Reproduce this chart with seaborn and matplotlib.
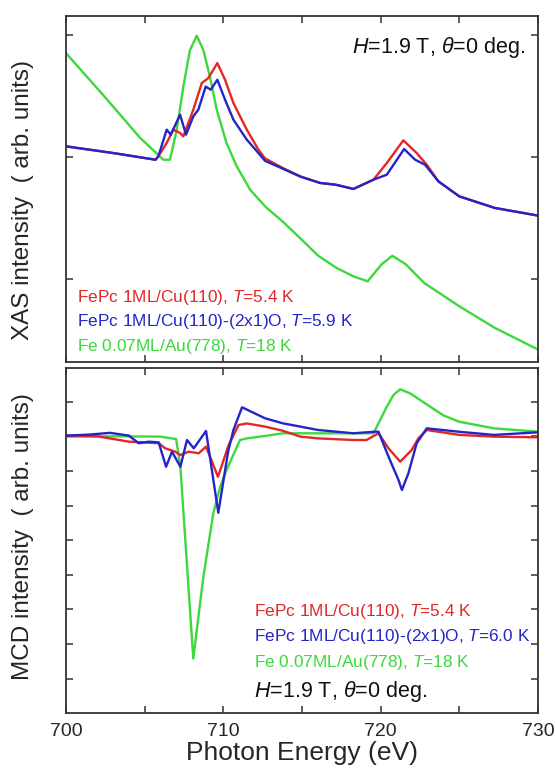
# =========================
# XAS / MCD spectra - FePc on Cu(110)
# =========================

import numpy as np
import pandas as pd
import matplotlib
matplotlib.use('Agg')
import matplotlib.pyplot as plt
import seaborn as sns

# ----- dados -----

x_ticks = [700, 705, 710, 715, 720, 725, 730]
x_tick_labels = ['700', '', '710', '', '720', '', '730']

# XAS - FePc 1ML/Cu(110), T=5.4 K
xas_red_e = [700.0, 703.0, 705.69, 705.87, 706.40, 706.82, 707.25, 707.46, 708.09, 708.63,
             709.05, 709.62, 710.11, 710.64, 711.49, 712.23, 712.65, 713.78, 714.9, 716.15,
             717.14, 718.27, 719.54, 720.39, 721.44, 722.29, 722.93, 723.67, 725.0, 727.25, 730.0]
xas_red_i = [2.089, 2.034, 1.979, 2.007, 2.117, 2.226, 2.199, 2.171, 2.39, 2.609,
             2.65, 2.773, 2.636, 2.445, 2.226, 2.062, 1.99, 1.911, 1.842, 1.788,
             1.774, 1.739, 1.815, 1.952, 2.138, 2.034, 1.938, 1.801, 1.678, 1.583, 1.52]

# XAS - FePc 1ML/Cu(110)-(2x1)O, T=5.9 K
xas_blue_e = [700.0, 703.0, 705.69, 705.87, 706.40, 706.66, 707.25, 707.63, 708.09, 708.41,
              708.88, 709.20, 709.62, 710.11, 710.64, 711.49, 712.23, 712.65, 713.78, 714.9,
              716.15, 717.14, 718.27, 719.54, 720.39, 721.49, 722.19, 722.82, 723.67, 725.0,
              727.25, 730.0]
xas_blue_i = [2.089, 2.034, 1.979, 2.007, 2.226, 2.185, 2.349, 2.185, 2.335, 2.39,
              2.58, 2.554, 2.636, 2.472, 2.308, 2.144, 2.034, 1.97, 1.905, 1.84,
              1.788, 1.774, 1.739, 1.815, 1.856, 2.067, 1.979, 1.938, 1.801, 1.678,
              1.583, 1.52]

# XAS - Fe 0.07ML/Au(778), T=18 K
xas_green_e = [700.0, 702.5, 704.70, 706.19, 706.61, 707.04, 707.46, 707.88, 708.31, 708.73,
               709.15, 709.58, 710.2, 710.85, 711.70, 712.7, 713.78, 715.0, 716.03, 717.2,
               718.27, 719.17, 720.06, 720.74, 721.6, 722.76, 725.0, 727.25, 730.0]
xas_green_i = [2.855, 2.49, 2.16, 1.979, 1.979, 2.226, 2.58, 2.88, 2.998, 2.88,
               2.66, 2.39, 2.117, 1.925, 1.733, 1.59, 1.47, 1.32, 1.19, 1.09,
               1.021, 0.98, 1.12, 1.19, 1.12, 0.967, 0.775, 0.598, 0.42]

# MCD - FePc 1ML/Cu(110), T=5.4 K
mcd_red_e = [700.0, 702.0, 703.99, 705.89, 706.31, 706.95, 707.27, 707.80, 708.44, 708.90,
             709.66, 710.34, 710.97, 711.5, 712.65, 713.78, 714.9, 716.03, 718.27, 719.1,
             719.86, 720.5, 721.24, 721.97, 722.4, 722.93, 725.0, 727.2, 730.0]
mcd_red_v = [0.02, 0.0, -0.155, -0.2, -0.347, -0.445, -0.54, -0.445, -0.49, -0.3,
             -1.17, -0.25, 0.327, 0.37, 0.28, 0.16, -0.01, -0.06, -0.107, -0.107,
             0.087, -0.347, -0.733, -0.396, -0.058, 0.182, 0.04, -0.01, -0.03]

# MCD - FePc 1ML/Cu(110)-(2x1)O, T=6.0 K
mcd_blue_e = [700.0, 701.5, 702.8, 704.0, 704.62, 705.26, 705.89, 706.36, 706.74, 707.27,
              707.69, 708.12, 708.90, 709.68, 710.3, 710.64, 711.19, 712.65, 713.78, 716.03,
              718.27, 719.62, 719.86, 720.5, 721.13, 721.35, 721.76, 722.29, 722.93, 725.0,
              727.2, 730.0]
mcd_blue_v = [0.02, 0.05, 0.10, 0.02, -0.2, -0.155, -0.175, -0.88, -0.445, -0.88,
              -0.107, -0.347, 0.153, -2.21, -0.45, 0.18, 0.838, 0.52, 0.375, 0.182,
              0.087, 0.133, 0.133, -0.59, -1.26, -1.55, -1.07, -0.2, 0.23, 0.13,
              0.04, 0.115]

# MCD - Fe 0.07ML/Au(778), T=18 K
mcd_green_e = [700.0, 703.0, 706.0, 707.0, 707.27, 708.09, 708.73, 709.36, 709.8, 710.21,
               711.06, 711.5, 712.65, 713.78, 716.03, 718.27, 719.54, 719.86, 720.39, 720.81,
               721.24, 721.87, 722.5, 723.14, 724.0, 725.0, 727.2, 730.0]
mcd_green_v = [-0.01, 0.0, -0.01, -0.08, -0.88, -6.42, -4.06, -2.23, -1.45, -0.97,
               -0.107, -0.06, 0.01, 0.087, 0.087, 0.087, 0.087, 0.375, 0.856, 1.19,
               1.358, 1.24, 1.05, 0.856, 0.6, 0.42, 0.23, 0.133]

# textos das legendas
xas_labels = ['FePc 1ML/Cu(110), $T$=5.4 K',
              'FePc 1ML/Cu(110)-(2x1)O, $T$=5.9 K',
              'Fe 0.07ML/Au(778), $T$=18 K']
mcd_labels = ['FePc 1ML/Cu(110), $T$=5.4 K',
              'FePc 1ML/Cu(110)-(2x1)O, $T$=6.0 K',
              'Fe 0.07ML/Au(778), $T$=18 K']
field_text = '$H$=1.9 T, $\\theta$=0 deg.'

# =========================
# ESTILO
# =========================

sns.set_theme(style='white')
plt.rcParams['font.family'] = ['Liberation Sans', 'DejaVu Sans']
plt.rcParams['mathtext.fontset'] = 'custom'
plt.rcParams['mathtext.rm'] = 'Liberation Sans'
plt.rcParams['mathtext.it'] = 'Liberation Sans:italic'

RED = '#e32626'
BLUE = '#2424c8'
GREEN = '#3cd83c'
colors = [RED, BLUE, GREEN]

fig = plt.figure(figsize=(5.55, 7.75), dpi=100)
ax1 = fig.add_axes([0.1189, 0.5333, 0.8505, 0.4461])
ax2 = fig.add_axes([0.1189, 0.0796, 0.8505, 0.4459])

# ----- XAS -----
for e, i, c in [(xas_green_e, xas_green_i, GREEN),
                (xas_red_e, xas_red_i, RED),
                (xas_blue_e, xas_blue_i, BLUE)]:
    sns.lineplot(x=e, y=i, color=c, linewidth=1.7, ax=ax1, estimator=None, sort=False)

ax1.set_ylim(0.32, 3.16)
ax1.set_yticks([1, 2, 3])

# ----- MCD -----
for e, v, c in [(mcd_green_e, mcd_green_v, GREEN),
                (mcd_red_e, mcd_red_v, RED),
                (mcd_blue_e, mcd_blue_v, BLUE)]:
    sns.lineplot(x=e, y=v, color=c, linewidth=1.7, ax=ax2, estimator=None, sort=False)

ax2.set_ylim(-8, 1.98)
ax2.set_yticks(list(range(-7, 2)))

# ----- eixos -----
for ax in (ax1, ax2):
    ax.set_xlim(700, 730)
    ax.set_xticks(x_ticks)
    ax.set_xticklabels(x_tick_labels)
    ax.set_yticklabels([])
    ax.set_ylabel('')
    ax.tick_params(direction='in', top=True, right=True, bottom=True, left=True,
                   length=5, width=1.1, color='#333333', labelsize=14, pad=7)
    for s in ax.spines.values():
        s.set_linewidth(1.3)
        s.set_color('#333333')

ax1.tick_params(labelbottom=False)
ax2.set_xlabel('Photon Energy (eV)', fontsize=19, labelpad=1)

# rotulos verticais
fig.text(23 / 555, 1 - 200 / 775, 'XAS intensity  ( arb. units)', rotation=90,
         ha='center', va='center', fontsize=17.5)
fig.text(23 / 555, 1 - 537 / 775, 'MCD intensity  ( arb. units)', rotation=90,
         ha='center', va='center', fontsize=17.5)

# legendas como texto
for k, (lab, c) in enumerate(zip(xas_labels, colors)):
    ax1.text(0.023, 0.187 - k * 0.071, lab, color=c, fontsize=12.4,
             ha='left', va='center', transform=ax1.transAxes)
ax1.text(0.972, 0.910, field_text, fontsize=15.5, ha='right', va='center',
         transform=ax1.transAxes, color='#111111')

for k, (lab, c) in enumerate(zip(mcd_labels, colors)):
    ax2.text(0.398, 0.296 - k * 0.074, lab, color=c, fontsize=12.4,
             ha='left', va='center', transform=ax2.transAxes)
ax2.text(0.398, 0.0625, field_text, fontsize=15.5, ha='left', va='center',
         transform=ax2.transAxes, color='#111111')

plt.savefig('out.png', dpi=100)
